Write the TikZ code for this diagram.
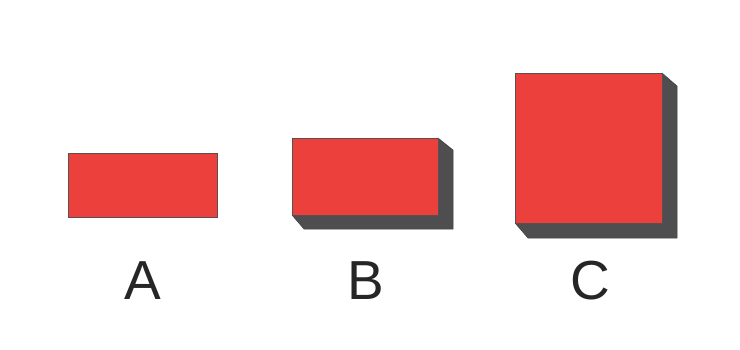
\documentclass[tikz,border=0pt]{standalone}
\usepackage{fontspec}
\setmainfont{Liberation Sans}
\definecolor{facered}{RGB}{236,64,60}
\definecolor{sidegray}{RGB}{78,78,80}
\definecolor{edgegray}{RGB}{90,80,80}
\begin{document}
\begin{tikzpicture}[x=1pt,y=-1pt,
  face/.style={fill=facered,draw=edgegray,line width=0.8pt},
  side/.style={fill=sidegray,draw=sidegray!80!black,line width=0.5pt,line join=round},
  lbl/.style={font=\fontsize{55}{60}\selectfont,text=black!85,anchor=base,inner sep=0pt}]
\useasboundingbox (0,0) rectangle (740,349);
\fill[white] (0,0) rectangle (740,349);
% A
\draw[face] (68,153) rectangle (217,217);
% B
\draw[side] (438,138) -- (453,150) -- (453,229) -- (304,229) -- (292,215) -- cycle;
\draw[face] (292,138) rectangle (438,215);
% C
\draw[side] (662,73) -- (677,86) -- (677,238) -- (528,238) -- (515,223) -- cycle;
\draw[face] (515,73) rectangle (662,223);
% labels
\node[lbl] (la) at (143,299) {A};
\node[lbl] (lb) at (366,299) {B};
\node[lbl] (lc) at (590,299) {C};
\end{tikzpicture}
\end{document}
